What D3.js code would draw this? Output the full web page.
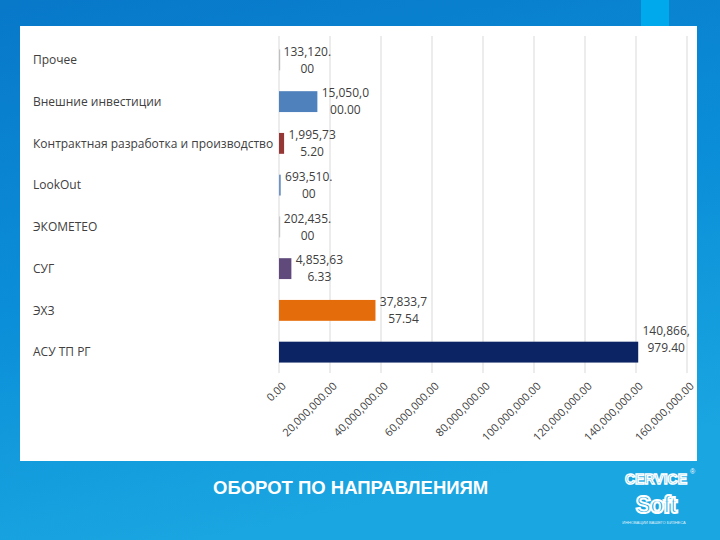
<!DOCTYPE html>
<html>
<head>
<meta charset="utf-8">
<script src="https://cdn.jsdelivr.net/npm/d3@7"></script>
<style>
  html, body { margin: 0; padding: 0; background: #0a86d2; }
  svg { display: block; }
</style>
</head>
<body>
<svg id="chart" width="720" height="540"></svg>
<script>
const categories = ["Прочее", "Внешние инвестиции", "Контрактная разработка и производство", "LookOut", "ЭКОМЕТЕО", "СУГ", "ЭХЗ", "АСУ ТП РГ"];
const values = [133120.00, 15050000.00, 1995735.20, 693510.00, 202435.00, 4853636.33, 37833757.54, 140866979.40];
const barColors = ["#bfbfbf", "#4f81bd", "#953735", "#6f93c6", "#c8c8c8", "#604a7b", "#e46c0a", "#0c2463"];
const tickValues = [0, 20000000, 40000000, 60000000, 80000000, 100000000, 120000000, 140000000, 160000000];
const title = "ОБОРОТ ПО НАПРАВЛЕНИЯМ";

const svg = d3.select("#chart");
const defs = svg.append("defs");
const bg = defs.append("linearGradient").attr("id", "bg").attr("x1", 0).attr("y1", 0).attr("x2", 0.3).attr("y2", 1);
bg.append("stop").attr("offset", "0%").attr("stop-color", "#0878c9");
bg.append("stop").attr("offset", "55%").attr("stop-color", "#0b8fd8");
bg.append("stop").attr("offset", "100%").attr("stop-color", "#1aa6e1");
svg.append("rect").attr("width", 720).attr("height", 540).attr("fill", "url(#bg)");
svg.append("rect").attr("x", 641).attr("y", 0).attr("width", 28).attr("height", 30).attr("fill", "#00a8ec");

// white panel
svg.append("rect").attr("x", 20).attr("y", 26).attr("width", 677).attr("height", 435).attr("fill", "#ffffff");

const x = d3.scaleLinear().domain([0, 160000000]).range([279, 687]);
const y = d3.scaleBand().domain(categories).range([39, 373]).paddingInner(0.5).paddingOuter(0.25);
const fmt = d3.format(",.2f");

// gridlines
svg.append("g").selectAll("line").data(tickValues).join("line")
  .attr("x1", d => x(d)).attr("x2", d => x(d))
  .attr("y1", 36).attr("y2", 373)
  .attr("stroke", "#d9d9d9").attr("stroke-width", 1);

// category labels
svg.append("g").selectAll("text").data(categories).join("text")
  .attr("x", 33).attr("y", d => y(d) + y.bandwidth() / 2)
  .attr("dy", "0.35em")
  .attr("font-family", "'Open Sans', sans-serif").attr("font-size", 12)
  .attr("fill", "#404040")
  .text(d => d);

// bars
const rows = categories.map((c, i) => ({ c, v: values[i], color: barColors[i] }));
svg.append("g").selectAll("rect").data(rows).join("rect")
  .attr("x", x(0)).attr("y", d => y(d.c))
  .attr("width", d => Math.max(1.2, x(d.v) - x(0)))
  .attr("height", y.bandwidth())
  .attr("fill", d => d.color);

// data labels
const maxV = d3.max(values);
const lbl = svg.append("g").selectAll("text").data(rows).join("text")
  .attr("font-family", "'Open Sans', sans-serif").attr("font-size", 12)
  .attr("fill", "#404040").attr("text-anchor", "middle");
lbl.each(function(d) {
  const s = fmt(d.v);
  const cx = x(d.v) + 28;
  const cy = y(d.c) + y.bandwidth() / 2 + (d.v === maxV ? -13 : 0);
  const t = d3.select(this);
  t.append("tspan").attr("x", cx).attr("y", cy - 8.5).attr("dy", "0.35em").text(s.slice(0, 8));
  t.append("tspan").attr("x", cx).attr("y", cy + 8.5).attr("dy", "0.35em").text(s.slice(8));
});

// x axis tick labels (rotated)
svg.append("g").selectAll("text").data(tickValues).join("text")
  .attr("transform", d => `translate(${x(d) + 5},${384}) rotate(-45)`)
  .attr("text-anchor", "end").attr("dy", "0.35em")
  .attr("font-family", "'Open Sans', sans-serif").attr("font-size", 11)
  .attr("fill", "#404040")
  .text(d => fmt(d));

// title
svg.append("text").attr("x", 213).attr("y", 494)
  .attr("font-family", "'Liberation Sans', Arial, sans-serif").attr("font-weight", "bold")
  .attr("font-size", 18.5).attr("fill", "#ffffff").text(title);

// logo (approximation)
const logo = svg.append("g").attr("fill", "#ffffff").attr("font-family", "'Liberation Sans', Arial, sans-serif");
logo.append("text").attr("x", 656).attr("y", 484).attr("text-anchor", "middle")
  .attr("font-size", 14).attr("font-weight", "bold").attr("fill", "none")
  .attr("stroke", "#ffffff").attr("stroke-width", 1.4).text("CERVICE");
logo.append("text").attr("x", 656).attr("y", 513).attr("text-anchor", "middle")
  .attr("font-size", 23).attr("font-weight", "bold").attr("fill", "none")
  .attr("stroke", "#ffffff").attr("stroke-width", 2).attr("letter-spacing", -1).text("Soft");
logo.append("text").attr("x", 690).attr("y", 474).attr("font-size", 7).text("®");
logo.append("text").attr("x", 654).attr("y", 524).attr("text-anchor", "middle")
  .attr("font-size", 4).attr("opacity", 0.85).text("ИННОВАЦИИ ВАШЕГО БИЗНЕСА");
</script>
</body>
</html>
